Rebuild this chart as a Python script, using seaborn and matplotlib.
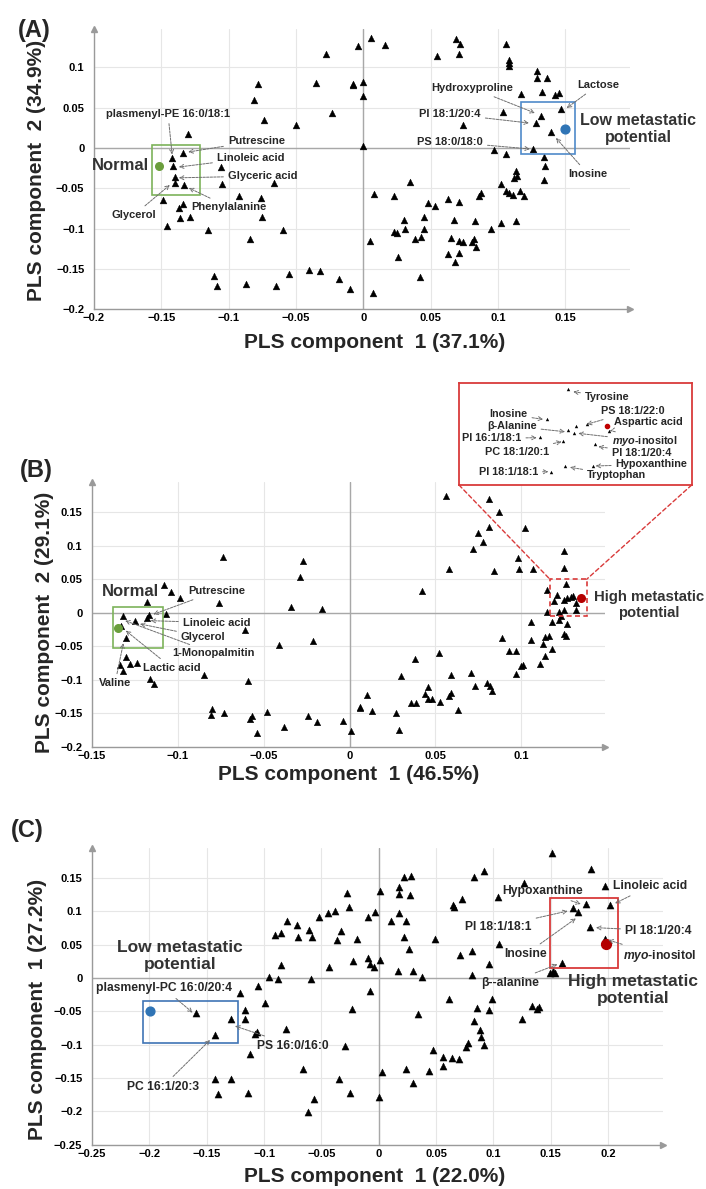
import matplotlib
matplotlib.use("Agg")
import matplotlib.pyplot as plt
import seaborn as sns
from matplotlib.patches import Rectangle, ConnectionPatch
from matplotlib.ticker import FuncFormatter, AutoMinorLocator

sns.set_theme(style="white")
plt.rcParams['font.family'] = ['Liberation Sans', 'DejaVu Sans']
plt.rcParams['font.weight'] = 'bold'
plt.rcParams['mathtext.fontset'] = 'custom'
plt.rcParams['mathtext.it'] = 'Liberation Sans:italic:bold'
plt.rcParams['mathtext.rm'] = 'Liberation Sans:bold'

# ---------------- data ----------------
A_x = [-0.028, -0.004, -0.078, -0.035, -0.008, -0.081, -0.074, -0.023, -0.050, -0.130,
       -0.142, -0.134, -0.141, -0.140, -0.140, -0.133, -0.106, -0.105, -0.066, -0.149,
       -0.134, -0.137, -0.092, -0.076, -0.136, -0.129, -0.075, -0.146, -0.115, -0.060,
       -0.084, -0.111, -0.109, -0.087, -0.065, -0.055, -0.040, -0.032, -0.018, -0.010,
       0.006, 0.016, -0.008, 0.000, 0.000, 0.000, 0.055, 0.069, 0.072, 0.071,
       0.106, 0.108, 0.108, 0.108, 0.129, 0.129, 0.136, 0.117, 0.133, 0.142,
       0.145, 0.147, 0.132, 0.128, 0.139, 0.126, 0.104, 0.074, 0.097, 0.106,
       0.134, 0.135, 0.134, 0.113, 0.114, 0.112, 0.102, 0.106, 0.108, 0.111,
       0.116, 0.119, 0.087, 0.086, 0.035, 0.008, 0.023, 0.048, 0.053, 0.063,
       0.071, 0.045, 0.030, 0.031, 0.045, 0.023, 0.025, 0.067, 0.083, 0.095,
       0.102, 0.113, 0.005, 0.038, 0.043, 0.065, 0.071, 0.074, 0.082, 0.081,
       0.084, 0.026, 0.063, 0.071, 0.068, 0.042, 0.007]
A_y = [0.117, 0.126, 0.080, 0.081, 0.079, 0.060, 0.035, 0.043, 0.029, 0.017,
       -0.013, -0.006, -0.022, -0.036, -0.044, -0.046, -0.024, -0.045, -0.043, -0.065,
       -0.069, -0.074, -0.060, -0.062, -0.087, -0.085, -0.085, -0.097, -0.102, -0.102,
       -0.113, -0.159, -0.171, -0.169, -0.171, -0.156, -0.151, -0.152, -0.163, -0.175,
       0.136, 0.128, 0.078, 0.082, 0.064, 0.002, 0.114, 0.135, 0.129, 0.117,
       0.129, 0.109, 0.106, 0.102, 0.095, 0.087, 0.087, 0.067, 0.069, 0.066,
       0.068, 0.048, 0.040, 0.031, 0.020, -0.001, 0.045, 0.029, -0.002, -0.007,
       -0.011, -0.022, -0.040, -0.028, -0.035, -0.037, -0.045, -0.053, -0.056, -0.058,
       -0.053, -0.059, -0.056, -0.060, -0.042, -0.057, -0.060, -0.068, -0.072, -0.063,
       -0.067, -0.085, -0.089, -0.100, -0.101, -0.104, -0.105, -0.089, -0.091, -0.101,
       -0.093, -0.091, -0.115, -0.113, -0.111, -0.112, -0.115, -0.117, -0.113, -0.117,
       -0.123, -0.135, -0.132, -0.130, -0.141, -0.160, -0.180]

B_x = [-0.074, -0.027, -0.029, -0.108, -0.104, -0.099, -0.118, -0.076, -0.034, -0.016,
       -0.132, -0.125, -0.117, -0.118, -0.107, -0.133, -0.130, -0.061, -0.041, -0.021,
       -0.130, -0.128, -0.124, -0.134, -0.132, -0.116, -0.114, -0.085, -0.059,
       -0.080, -0.081, -0.073, -0.057, -0.058, -0.048, -0.054, -0.038, -0.024, -0.019,
       -0.004, 0.001, 0.006,
       0.056, 0.081, 0.087, 0.075, 0.081, 0.078, 0.102, 0.072, 0.125, 0.098,
       0.125, 0.058, 0.084, 0.099, 0.107, 0.042,
       0.126, 0.115, 0.121, 0.119, 0.125, 0.127, 0.129, 0.130, 0.132, 0.115,
       0.122, 0.125, 0.132, 0.123, 0.122, 0.118, 0.127, 0.106,
       0.089, 0.106, 0.114, 0.116, 0.113, 0.125, 0.126, 0.118, 0.093, 0.097,
       0.052, 0.038, 0.114, 0.101, 0.100, 0.111,
       0.097, 0.071, 0.059, 0.030, 0.073, 0.080, 0.082, 0.083, 0.046, 0.044,
       0.046, 0.048, 0.059, 0.058, 0.053, 0.036, 0.039, 0.063,
       0.010, 0.006, 0.013, 0.027, 0.029]
B_y = [0.083, 0.078, 0.053, 0.042, 0.032, 0.023, 0.016, 0.015, 0.009, 0.006,
       -0.005, -0.012, -0.003, -0.008, -0.002, -0.019, -0.038, -0.026, -0.048, -0.042,
       -0.066, -0.076, -0.074, -0.078, -0.087, -0.098, -0.106, -0.093, -0.102,
       -0.143, -0.152, -0.150, -0.153, -0.158, -0.148, -0.179, -0.170, -0.154, -0.163,
       -0.161, -0.176, -0.142,
       0.175, 0.170, 0.151, 0.120, 0.128, 0.106, 0.127, 0.096, 0.092, 0.082,
       0.067, 0.066, 0.062, 0.065, 0.065, 0.033,
       0.043, 0.035, 0.027, 0.018, 0.019, 0.023, 0.024, 0.025, 0.015, 0.002,
       0.001, 0.005, 0.005, -0.005, -0.010, -0.014, -0.017, -0.013,
       -0.038, -0.040, -0.036, -0.035, -0.046, -0.031, -0.034, -0.054, -0.057, -0.057,
       -0.060, -0.069, -0.064, -0.077, -0.079, -0.076,
       -0.091, -0.089, -0.093, -0.094, -0.109, -0.105, -0.109, -0.117, -0.110, -0.121,
       -0.129, -0.129, -0.120, -0.124, -0.133, -0.134, -0.135, -0.145,
       -0.122, -0.141, -0.147, -0.150, -0.175]

# zoomed inset of the high-metastatic cluster (inset units 0-1)
INS_x = [0.467, 0.377, 0.502, 0.550, 0.470, 0.496, 0.448, 0.348, 0.584, 0.456, 0.577, 0.394, 0.646]
INS_y = [0.941, 0.646, 0.583, 0.597, 0.541, 0.514, 0.433, 0.469, 0.400, 0.187, 0.187, 0.125, 0.534]

C_x = [-0.028, -0.026, -0.044, -0.038, -0.052, -0.080, -0.071, -0.061, -0.090, -0.085,
       -0.070, -0.058, -0.033, -0.036, -0.019, -0.085, -0.043, -0.022, -0.096, -0.088,
       -0.059, -0.121, -0.105, -0.099, -0.117, -0.117, -0.129, -0.159, -0.143, -0.106,
       -0.108, -0.081, -0.112, -0.023, -0.029, -0.066, -0.143, -0.129, -0.140, -0.114,
       -0.035, -0.025, -0.056, -0.062,
       0.151, 0.185, 0.092, 0.083, 0.022, 0.028, 0.001, 0.018, 0.018, 0.027,
       0.127, 0.104, 0.073, 0.065, 0.066, 0.197, 0.181, 0.202, 0.169, 0.174,
       0.184, 0.197, 0.160, 0.149, 0.152, 0.154, -0.003, -0.009, 0.011, 0.018,
       0.024, 0.022, 0.049, 0.026, -0.009, -0.008, -0.004, 0.001, 0.017, 0.030,
       0.038, 0.071, 0.081, 0.096, 0.081, 0.105, -0.008, 0.034, 0.061, 0.086,
       0.099, 0.096, 0.083, 0.088, 0.089, 0.092, 0.078, 0.076, 0.125, 0.134,
       0.138, 0.140, 0.047, 0.056, 0.056, 0.064, 0.070, 0.024, 0.003, 0.044,
       0.030, 0.000]
C_y = [0.127, 0.107, 0.098, 0.100, 0.091, 0.086, 0.080, 0.072, 0.065, 0.067,
       0.061, 0.061, 0.070, 0.057, 0.058, 0.019, 0.016, 0.025, 0.002, -0.001,
       -0.002, -0.022, -0.012, -0.037, -0.048, -0.062, -0.062, -0.053, -0.086, -0.081,
       -0.084, -0.076, -0.114, -0.047, -0.102, -0.137, -0.151, -0.152, -0.174, -0.173,
       -0.152, -0.172, -0.182, -0.201,
       0.187, 0.163, 0.161, 0.152, 0.152, 0.153, 0.130, 0.136, 0.126, 0.124,
       0.142, 0.121, 0.118, 0.110, 0.106, 0.138, 0.111, 0.110, 0.105, 0.099,
       0.076, 0.058, 0.022, 0.008, 0.011, 0.007, 0.099, 0.091, 0.086, 0.097,
       0.085, 0.062, 0.059, 0.043, 0.030, 0.021, 0.017, 0.027, 0.011, 0.011,
       0.002, 0.035, 0.041, 0.021, 0.005, 0.051, -0.019, -0.054, -0.032, -0.045,
       -0.032, -0.048, -0.064, -0.078, -0.089, -0.101, -0.098, -0.103, -0.061, -0.042,
       -0.047, -0.044, -0.108, -0.119, -0.132, -0.120, -0.122, -0.137, -0.141, -0.140,
       -0.158, -0.178]

# group centroids
A_groups = {"Normal": (-0.1516, -0.022), "Low": (0.150, 0.023)}
B_groups = {"Normal": (-0.135, -0.023), "High": (0.1347, 0.0228)}
C_groups = {"Low": (-0.1994, -0.049), "High": (0.1982, 0.0505)}
INS_red = (0.635, 0.583)

# annotations: (label, arrow target in data, text position in px, ha)
A_ann = [("plasmenyl-PE 16:0/18:1", (-0.142, -0.008), (168, 114), 'center'),
         ("Putrescine", (-0.130, -0.005), (228, 141), 'left'),
         ("Linoleic acid", (-0.137, -0.0236), (217, 158), 'left'),
         ("Glyceric acid", (-0.137, -0.037), (228, 176), 'left'),
         ("Phenylalanine", (-0.1296, -0.0496), (191, 207), 'left'),
         ("Glycerol", (-0.1437, -0.0459), (134, 215), 'center'),
         ("Hydroxyproline", (0.1274, 0.0434), (472, 88), 'center'),
         ("PI 18:1/20:4", (0.123, 0.031), (450, 114), 'center'),
         ("PS 18:0/18:0", (0.1237, -0.0012), (450, 142), 'center'),
         ("Lactose", (0.151, 0.0496), (598, 85), 'center'),
         ("Inosine", (0.143, 0.0124), (588, 174), 'center')]
B_ann = [("Putrescine", (-0.1143, -0.002), (216.7, 591), 'center'),
         ("Linoleic acid", (-0.1159, -0.0115), (216.7, 622.7), 'center'),
         ("Glycerol", (-0.1221, -0.0164), (203.3, 636.7), 'center'),
         ("1-Monopalmitin", (-0.1308, -0.0115), (213.3, 653.3), 'center'),
         ("Lactic acid", (-0.1304, -0.0264), (171.7, 667.7), 'center'),
         ("Valine", (-0.1318, -0.0452), (115, 683.3), 'center')]
INS_ann = [("Tyrosine", (0.491, 0.917), (0.5415, 0.868), 'left'),
           ("Inosine", (0.362, 0.646), (0.212, 0.695), 'center'),
           ("β-Alanine", (0.4555, 0.524), (0.2265, 0.580), 'center'),
           ("PI 16:1/18:1", (0.334, 0.465), (0.1405, 0.459), 'center'),
           ("PC 18:1/20:1", (0.441, 0.426), (0.248, 0.327), 'center'),
           ("PI 18:1/18:1", (0.384, 0.131), (0.212, 0.125), 'center'),
           ("PS 18:1/22:0", (0.549, 0.597), (0.749, 0.728), 'center'),
           ("Aspartic acid", (0.649, 0.531), (0.8135, 0.617), 'center'),
           (r"$\mathit{myo}$-inositol", (0.5127, 0.508), (0.799, 0.433), 'center'),
           ("PI 18:1/20:4", (0.599, 0.377), (0.785, 0.318), 'center'),
           ("Hypoxanthine", (0.587, 0.187), (0.828, 0.204), 'center'),
           ("Tryptophan", (0.477, 0.174), (0.678, 0.098), 'center')]
C_ann = [("plasmenyl-PC 16:0/20:4", (-0.1622, -0.052), (164, 988.3), 'center'),
         ("PS 16:0/16:0", (-0.1253, -0.072), (293.3, 1045.7), 'center'),
         ("PC 16:1/20:3", (-0.1471, -0.093), (162.7, 1086.7), 'center'),
         ("Hypoxanthine", (0.1762, 0.111), (542.3, 891), 'center'),
         ("Linoleic acid", (0.2061, 0.112), (650, 886), 'center'),
         ("PI 18:1/18:1", (0.1648, 0.1005), (498.3, 926.7), 'center'),
         ("Inosine", (0.172, 0.0895), (526, 954), 'center'),
         ("PI 18:1/20:4", (0.1895, 0.0755), (658.3, 930.7), 'center'),
         (r"$\mathit{myo}$-inositol", (0.2002, 0.057), (660, 956), 'center'),
         ("β--alanine", (0.1558, 0.0205), (510, 982.7), 'center')]

A_xticks = [-0.2, -0.15, -0.1, -0.05, 0, 0.05, 0.1, 0.15]
A_yticks = [-0.2, -0.15, -0.1, -0.05, 0, 0.05, 0.1]
B_xticks = [-0.15, -0.1, -0.05, 0, 0.05, 0.1]
B_yticks = [-0.2, -0.15, -0.1, -0.05, 0, 0.05, 0.1, 0.15]
C_xticks = [-0.25, -0.2, -0.15, -0.1, -0.05, 0, 0.05, 0.1, 0.15, 0.2]
C_yticks = [-0.25, -0.2, -0.15, -0.1, -0.05, 0, 0.05, 0.1, 0.15]

# ---------------- figure ----------------
W, H = 706, 1189
fig = plt.figure(figsize=(W / 100, H / 100), dpi=100)


def fx(px):
    return px / W


def fy(py):
    return 1 - py / H


def fmt(v, _):
    s = f"{round(v, 3):g}"
    return s.replace("-", "\u2212")


GRAY = "#9a9a9a"
ARROW = dict(arrowstyle="->", color="#6e6e6e", lw=0.7, linestyle=(0, (2.5, 1.2)),
             shrinkA=1, shrinkB=0, mutation_scale=7)


def style(ax, xlim, ylim, xt, yt):
    ax.set_xlim(*xlim)
    ax.set_ylim(*ylim)
    ax.set_xticks(xt)
    ax.set_yticks(yt)
    ax.xaxis.set_major_formatter(FuncFormatter(fmt))
    ax.yaxis.set_major_formatter(FuncFormatter(fmt))
    ax.xaxis.set_minor_locator(AutoMinorLocator(2))
    ax.yaxis.set_minor_locator(AutoMinorLocator(2))
    ax.grid(True, which="major", color="#e6e6e6", lw=0.8)
    ax.set_axisbelow(True)
    for s in ("top", "right"):
        ax.spines[s].set_visible(False)
    for s in ("left", "bottom"):
        ax.spines[s].set_color(GRAY)
        ax.spines[s].set_linewidth(1.0)
    ax.tick_params(which="major", length=0, labelsize=8, colors="black")
    ax.tick_params(axis="y", which="major", pad=7)
    ax.tick_params(axis="x", which="major", pad=3)
    ax.tick_params(which="minor", length=2.5, color=GRAY, direction="in", width=0.6)
    for lab in ax.get_xticklabels() + ax.get_yticklabels():
        lab.set_fontweight("bold")
    ax.axhline(0, color="#a8a8a8", lw=1.0, zorder=1)
    ax.axvline(0, color="#a8a8a8", lw=1.0, zorder=1)
    ax.plot(1, 0, marker=">", ms=4, color=GRAY, transform=ax.transAxes, clip_on=False)
    ax.plot(0, 1, marker="^", ms=4, color=GRAY, transform=ax.transAxes, clip_on=False)
    ax.set_xlabel("")
    ax.set_ylabel("")


def pts(ax, x, y, s=24):
    sns.scatterplot(x=x, y=y, marker="^", color="black", s=s, edgecolor="black",
                    linewidth=0.3, ax=ax, legend=False, zorder=3)


def annotate(ax, items, size):
    for lab, tgt, (px, py), ha in items:
        ax.annotate(lab, xy=tgt, xycoords="data", xytext=(fx(px), fy(py)),
                    textcoords="figure fraction", ha=ha, va="center",
                    fontsize=size, fontweight="bold", arrowprops=ARROW, zorder=5)


def axis_labels(xl, xpos, yl, ypos, size=15):
    fig.text(fx(xpos[0]), fy(xpos[1]), xl, ha="center", va="center",
             fontsize=size, fontweight="bold")
    fig.text(fx(ypos[0]), fy(ypos[1]), yl, ha="center", va="center",
             rotation=90, fontsize=size, fontweight="bold")


# ---------- Panel A ----------
axA = fig.add_axes([fx(94), fy(309.2), fx(630) - fx(94), fy(28.7) - fy(309.2)])
style(axA, (-0.2, 0.198), (-0.2, 0.148), A_xticks, A_yticks)
pts(axA, A_x, A_y)
axA.add_patch(Rectangle((-0.157, -0.058), 0.0355, 0.062, fill=False, ec="#7db35a", lw=1.2, zorder=4))
axA.add_patch(Rectangle((0.117, -0.0078), 0.040, 0.0653, fill=False, ec="#4f8ac9", lw=1.2, zorder=4))
axA.scatter(*A_groups["Normal"], s=30, color="#6a9e3c", zorder=5)
axA.scatter(*A_groups["Low"], s=40, color="#2f74b5", zorder=5)
annotate(axA, A_ann, 8)
fig.text(fx(120), fy(166), "Normal", ha="center", va="center", fontsize=12, fontweight="bold", color="#333333")
fig.text(fx(638), fy(129), "Low metastatic\npotential", ha="center", va="center",
         fontsize=11.5, fontweight="bold", color="#333333", linespacing=1.1)
axis_labels("PLS component  1 (37.1%)", (375, 343), "PLS component  2 (34.9%)", (37, 170))
fig.text(fx(18), fy(30), "(A)", ha="left", va="center", fontsize=17, fontweight="bold")

# ---------- Panel B ----------
axB = fig.add_axes([fx(92.1), fy(747), fx(605.2) - fx(92.1), fy(482.3) - fy(747)])
style(axB, (-0.15, 0.149), (-0.2, 0.195), B_xticks, B_yticks)
pts(axB, B_x, B_y, s=22)
axB.add_patch(Rectangle((-0.138, -0.0527), 0.0295, 0.0612, fill=False, ec="#7db35a", lw=1.2, zorder=4))
axB.add_patch(Rectangle((0.1168, -0.0045), 0.0214, 0.0548, fill=False, ec="#d93a3a", lw=1.2,
                        ls=(0, (3, 2)), zorder=4))
axB.scatter(*B_groups["Normal"], s=30, color="#6a9e3c", zorder=5)
axB.scatter(*B_groups["High"], s=30, color="#b40000", zorder=5)
annotate(axB, B_ann, 8)
fig.text(fx(130.5), fy(591.7), "Normal", ha="center", va="center", fontsize=12, fontweight="bold", color="#333333")
fig.text(fx(649), fy(605), "High metastatic\npotential", ha="center", va="center",
         fontsize=10.7, fontweight="bold", color="#333333", linespacing=1.15)
axis_labels("PLS component  1 (46.5%)", (349, 774), "PLS component  2 (29.1%)", (45, 622))
fig.text(fx(20), fy(471), "(B)", ha="left", va="center", fontsize=17, fontweight="bold")

# inset
axI = fig.add_axes([fx(459), fy(485), fx(691.7) - fx(459), fy(383.3) - fy(485)])
axI.set_xlim(0, 1)
axI.set_ylim(0, 1)
axI.set_xticks([])
axI.set_yticks([])
axI.set_facecolor("white")
for s in axI.spines.values():
    s.set_color("#d93a3a")
    s.set_linewidth(1.3)
sns.scatterplot(x=INS_x, y=INS_y, marker="^", color="black", s=6, edgecolor="black",
                linewidth=0, ax=axI, legend=False, zorder=3)
axI.scatter(*INS_red, s=9, color="#c00000", zorder=4)
for lab, tgt, txt, ha in INS_ann:
    axI.annotate(lab, xy=tgt, xytext=txt, ha=ha, va="center", fontsize=7.8,
                 fontweight="bold", arrowprops=ARROW)
for xa, xb in ((0, 0.1168), (1, 0.1382)):
    con = ConnectionPatch(xyA=(xa, 0), coordsA=axI.transAxes, xyB=(xb, 0.0503),
                          coordsB=axB.transData, color="#d93a3a", lw=1.0, ls=(0, (3, 2)))
    fig.add_artist(con)

# ---------- Panel C ----------
axC = fig.add_axes([fx(92), fy(1144.7), fx(663.1) - fx(92), fy(848) - fy(1144.7)])
style(axC, (-0.25, 0.248), (-0.25, 0.195), C_xticks, C_yticks)
pts(axC, C_x, C_y, s=26)
axC.add_patch(Rectangle((-0.2053, -0.098), 0.0828, 0.0635, fill=False, ec="#3f74b5", lw=1.2, zorder=4))
axC.add_patch(Rectangle((0.1498, 0.0145), 0.0592, 0.105, fill=False, ec="#d93a3a", lw=1.3, zorder=4))
axC.scatter(*C_groups["Low"], s=40, color="#2f74b5", zorder=5)
axC.scatter(*C_groups["High"], s=50, color="#b40000", zorder=5)
annotate(axC, C_ann, 8.7)
fig.text(fx(180), fy(956), "Low metastatic\npotential", ha="center", va="center",
         fontsize=12.5, fontweight="bold", color="#333333", linespacing=1.15)
fig.text(fx(633), fy(990), "High metastatic\npotential", ha="center", va="center",
         fontsize=12.5, fontweight="bold", color="#333333", linespacing=1.15)
axis_labels("PLS component  1 (22.0%)", (375, 1176), "PLS component  1 (27.2%)", (38, 1009))
fig.text(fx(11), fy(831), "(C)", ha="left", va="center", fontsize=17, fontweight="bold")

fig.savefig("out.png", dpi=100)
